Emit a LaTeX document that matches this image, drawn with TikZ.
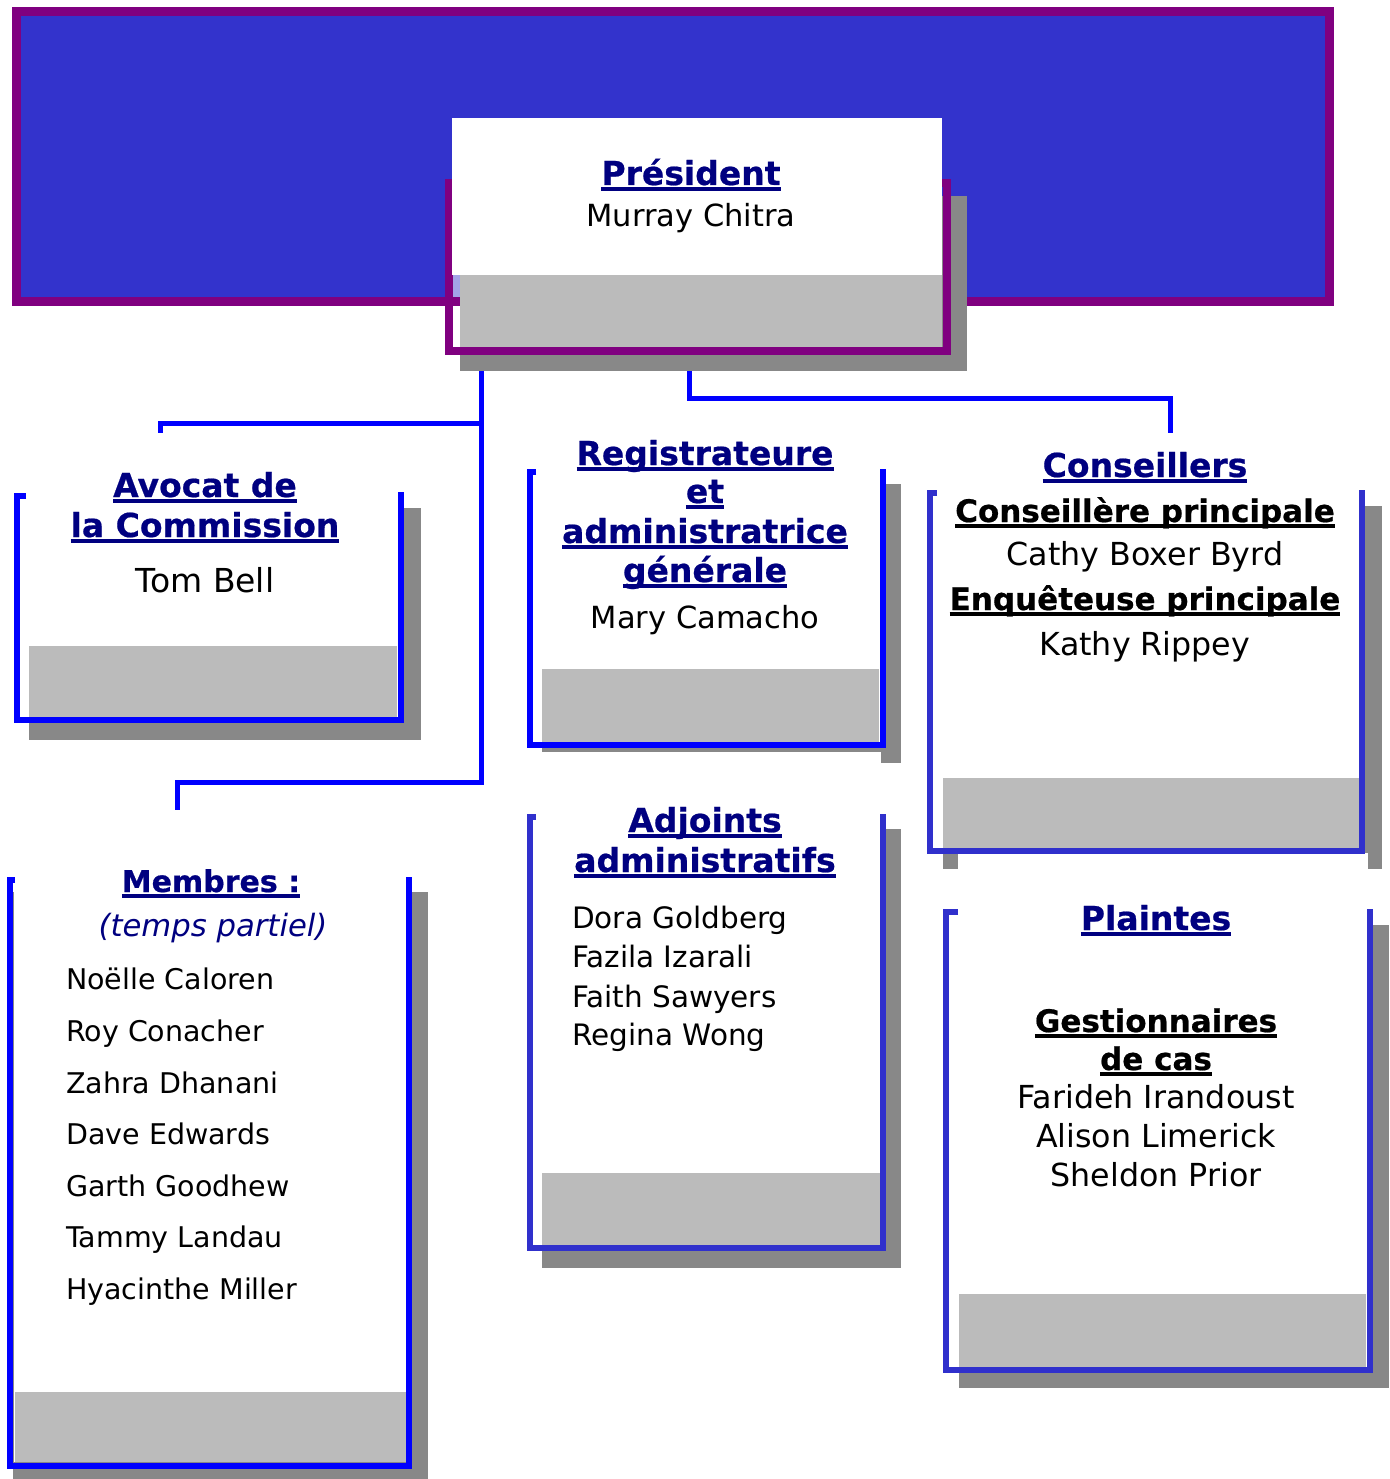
\documentclass[tikz,border=0pt]{standalone}
\usepackage{fontspec}
\setmainfont{DejaVu Sans}
\newfontfamily\heavyfont{DejaVu Sans}[BoldFeatures={FakeBold=0.6}]
\definecolor{bannerblue}{HTML}{3333CC}
\definecolor{bannerpurple}{HTML}{800080}
\definecolor{shadowgray}{HTML}{888888}
\definecolor{bandgray}{HTML}{BBBBBB}
\definecolor{linkblue}{HTML}{0000FF}
\definecolor{softblue}{HTML}{3030CC}
\definecolor{navytitle}{HTML}{000080}
\newcommand\ulx[1]{\setbox0=\hbox{#1}\rlap{\rule[-5.6pt]{\wd0}{3.2pt}}\box0}
\begin{document}
\begin{tikzpicture}[x=1pt,y=-1pt,
  title/.style={font=\fontsize{33}{40}\heavyfont\bfseries, text=navytitle, anchor=base, inner sep=0pt},
  subtitle/.style={font=\fontsize{31}{37}\heavyfont\bfseries, text=black, anchor=base, inner sep=0pt},
  person/.style={font=\fontsize{30.5}{37}\selectfont, text=black, anchor=base, inner sep=0pt},
  wideperson/.style={font=\fontsize{31.7}{38}\selectfont, text=black, anchor=base, inner sep=0pt},
  member/.style={font=\fontsize{28.5}{34}\selectfont, text=black, anchor=base west, inner sep=0pt},
  adjoint/.style={font=\fontsize{29.5}{35}\selectfont, text=black, anchor=base west, inner sep=0pt},
  shadow/.style={fill=shadowgray},
  band/.style={fill=bandgray},
  cardface/.style={fill=white, draw=none, inner sep=0pt, anchor=north west},
  bracket/.style={draw=linkblue, line width=6pt, line join=miter},
  softbracket/.style={draw=softblue, line width=5.5pt, line join=miter},
  link/.style={draw=linkblue, line width=5pt, line join=miter}]
\useasboundingbox (0,0) rectangle (1389,1479);

% banner
\draw[line width=9pt, draw=bannerpurple, fill=bannerblue] (16.5,11.5) rectangle (1329.5,301);

% president
\fill[shadow] (460,196) rectangle (967,371);
\draw[line width=8pt, draw=bannerpurple] (449,183) rectangle (947,351);
\fill[bannerblue!45] (453,275) rectangle (460,297);
\fill[band] (460,275) rectangle (942,347);
\node[cardface, minimum width=490pt, minimum height=157pt] (pres) at (452,118) {};
\node[title] (presT) at (691,185) {\ulx{Président}};
\node[person] (presN) at (691,226) {Murray Chitra};

% connectors
\coordinate (pL) at (481,371);
\coordinate (pR) at (689,371);
\coordinate (jA) at (481,423);
\coordinate (jM) at (481,782);
\coordinate (avTop) at (160,433);
\coordinate (meTop) at (177,810);
\coordinate (coTop) at (1170,433);
\draw[link] (pL) -- (jM) -| (meTop);
\draw[link] (jA) -| (avTop);
\draw[link] (pR) -- ++(0,27) -| (coTop);

% Avocat
\fill[shadow] (29,508) rectangle (421,740);
\node[cardface, minimum width=380pt, minimum height=226pt] (avocat) at (19,493) {};
\fill[band] (29,646) rectangle (397,717);
\draw[bracket] (26,496) -- (17,496) -- (17,720) -- (401,720) -- (401,492);
\node[title] (avT1) at (205,497) {\ulx{Avocat de}};
\node[title] (avT2) at (205,537) {\ulx{la Commission}};
\node[person, font=\fontsize{33}{40}\selectfont] (avN) at (205,592) {Tom Bell};

% Registrateure
\fill[shadow] (542,484) rectangle (901,752);
\fill[shadow] (881,484) rectangle (901,763);
\node[cardface, minimum width=350pt, minimum height=274pt] (regis) at (532,469) {};
\fill[band] (542,669) rectangle (879,742);
\draw[bracket] (536,472) -- (529.5,472) -- (529.5,745) -- (883,745) -- (883,469);
\node[title] (reT1) at (705,465) {\ulx{Registrateure}};
\node[title] (reT2) at (705,503) {\ulx{et}};
\node[title] (reT3) at (705,543) {\ulx{administratrice}};
\node[title] (reT4) at (705,582) {\ulx{générale}};
\node[person] (reN) at (705,628) {Mary Camacho};

% Adjoints
\fill[shadow] (542,829) rectangle (901,1268);
\node[cardface, minimum width=350pt, minimum height=432pt] (adj) at (532,814) {};
\fill[band] (542,1173) rectangle (880,1245);
\draw[softbracket] (536,817) -- (530,817) -- (530,1248) -- (883,1248) -- (883,814);
\node[title] (adT1) at (705,832) {\ulx{Adjoints}};
\node[title] (adT2) at (705,872) {\ulx{administratifs}};
\node[adjoint] (adN1) at (572,928) {Dora Goldberg};
\node[adjoint] (adN2) at (572,967) {Fazila Izarali};
\node[adjoint] (adN3) at (572,1007) {Faith Sawyers};
\node[adjoint] (adN4) at (572,1045) {Regina Wong};

% Conseillers
\fill[shadow] (943,506) rectangle (1382,869);
\fill[white] (958,853) rectangle (1368,870);
\node[cardface, minimum width=429pt, minimum height=358pt] (cons) at (932,490) {};
\fill[band] (943,778) rectangle (1359,848);
\draw[softbracket] (937,493) -- (930,493) -- (930,851) -- (1362,851) -- (1362,490);
\node[title] (coT) at (1145,477) {\ulx{Conseillers}};
\node[subtitle] (coS1) at (1145,522) {\ulx{Conseillère principale}};
\node[wideperson] (coN1) at (1145,565) {Cathy Boxer Byrd};
\node[subtitle] (coS2) at (1145,610) {\ulx{Enquêteuse principale}};
\node[wideperson] (coN2) at (1145,655) {Kathy Rippey};

% Plaintes
\fill[shadow] (959,925) rectangle (1389,1388);
\node[cardface, minimum width=421pt, minimum height=458pt] (plain) at (948,909) {};
\fill[band] (959,1294) rectangle (1366,1367);
\draw[softbracket] (958,912) -- (946,912) -- (946,1370) -- (1370,1370) -- (1370,909);
\node[title] (plT) at (1156,930) {\ulx{Plaintes}};
\node[subtitle] (plS1) at (1156,1032) {\ulx{Gestionnaires}};
\node[subtitle] (plS2) at (1156,1070) {\ulx{de cas}};
\node[wideperson] (plN1) at (1156,1108) {Farideh Irandoust};
\node[wideperson] (plN2) at (1156,1147) {Alison Limerick};
\node[wideperson] (plN3) at (1156,1186) {Sheldon Prior};

% Membres
\fill[shadow] (13,892) rectangle (428,1479);
\node[cardface, minimum width=394pt, minimum height=585pt] (memb) at (14,877) {};
\fill[band] (15,1392) rectangle (406,1462);
\draw[bracket] (15,880) -- (9.5,880) -- (9.5,1466) -- (409,1466) -- (409,877);
\node[title, font=\fontsize{30}{36}\heavyfont\bfseries] (meT) at (211,892) {\ulx{Membres :}};
\node[person, text=navytitle, font=\fontsize{30.7}{36}\selectfont\itshape] (meI) at (213,936) {(temps partiel)};
\node[member] (me1) at (66,989) {Noëlle Caloren};
\node[member] (me2) at (66,1041) {Roy Conacher};
\node[member] (me3) at (66,1093) {Zahra Dhanani};
\node[member] (me4) at (66,1144) {Dave Edwards};
\node[member] (me5) at (66,1196) {Garth Goodhew};
\node[member] (me6) at (66,1247) {Tammy Landau};
\node[member] (me7) at (66,1299) {Hyacinthe Miller};
\end{tikzpicture}
\end{document}
